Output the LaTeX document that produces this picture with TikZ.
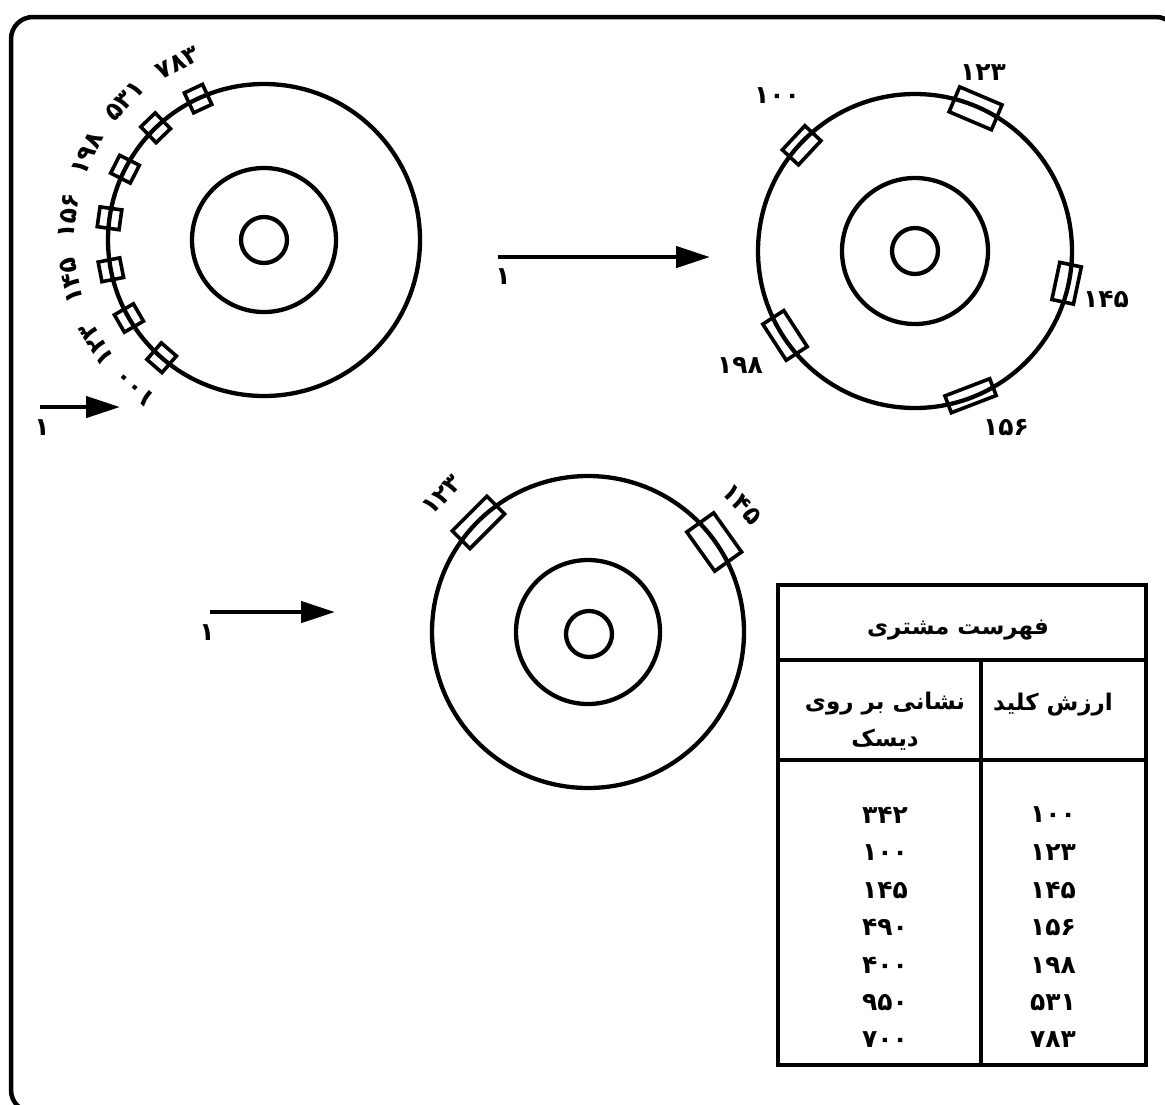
\documentclass[tikz,border=0pt]{standalone}
\usepackage{fontspec}
\newfontfamily\fa[Script=Arabic]{DejaVu Sans Bold}
\TeXXeTstate=1
\usetikzlibrary{arrows.meta,calc}
\begin{document}
\begin{tikzpicture}[x=1pt,y=1pt,line width=4.3pt,
  disk/.style={circle,draw,inner sep=0pt,minimum size=#1},
  rec/.style={rectangle,draw,inner sep=0pt,line width=3.6pt},
  num/.style={font=\fa\fontsize{25}{25}\selectfont,inner sep=0pt},
  txt/.style={font=\fa\fontsize{23}{37}\selectfont,inner sep=0pt,align=center},
  arr/.style={-{Triangle[length=34pt,width=21pt]},line width=4.5pt},
  tline/.style={line width=4.5pt}]
\useasboundingbox (0,0) rectangle (1165,-1104);
\clip (0,0) rectangle (1165,-1104);
\draw[line width=4.5pt,rounded corners=22pt] (11,-17) rectangle (1178,-1112);

% disk 1
\node[disk=312pt] (d1o) at (264,-240) {};
\node[disk=144pt] (d1m) at (264,-240) {};
\node[disk=46pt] (d1i) at (264,-240) {};
\foreach \a/\n in {115/a,134/b,153/c,172/d,191/e,210/f,229/g}
  \node[rec,minimum width=22pt,minimum height=20pt,rotate=\a] (r1\n) at ($(d1o.center)+(\a:156pt)$) {};
\foreach \a/\t/\n in {116/۷۸۳/a,135/۵۳۱/b,154/۱۹۸/c,173/۱۵۶/d,192/۱۴۵/e,212/۱۲۳/f,229/۱۰۰/g}
  \node[num,rotate=\a-90] (l1\n) at ($(d1o.center)+(\a:197pt)$) {\t};

% disk 2
\node[disk=314pt] (d2o) at (915,-251) {};
\node[disk=146pt] (d2m) at (915,-251) {};
\node[disk=46pt] (d2i) at (915,-251) {};
\foreach \a/\w/\h/\n in {137/22/33/a,67/27/46/b,-12/22/38/c,213/25/43/d,-69/18/48/e}
  \node[rec,minimum width=\w pt,minimum height=\h pt,rotate=\a] (r2\n) at ($(d2o.center)+(\a:155pt)$) {};
\node[num] (l2a) at (777,-96) {۱۰۰};
\node[num] (l2b) at (983,-73) {۱۲۳};
\node[num] (l2c) at (1106,-299) {۱۴۵};
\node[num] (l2d) at (740,-365) {۱۹۸};
\node[num] (l2e) at (1006,-428) {۱۵۶};

% disk 3
\node[disk=312pt] (d3o) at (588,-632) {};
\node[disk=144pt] (d3m) at (588,-632) {};
\node[disk=46pt] (d3i) at (589,-634) {};
\node[rec,minimum width=25pt,minimum height=49pt,rotate=135] (r3a) at ($(d3o.center)+(135:155pt)$) {};
\node[rec,minimum width=33pt,minimum height=48pt,rotate=35.5] (r3b) at ($(d3o.center)+(35.5:155pt)$) {};
\node[num,rotate=45] (l3a) at (442,-495) {۱۲۳};
\node[num,rotate=-48] (l3b) at (742,-504) {۱۴۵};

% arrows
\coordinate (a1s) at (40,-407);
\coordinate (a1e) at (120,-407);
\draw[arr] (a1s) -- (a1e);
\node[num] (a1l) at (42,-428) {۱};
\coordinate (a2s) at (498,-257);
\coordinate (a2e) at (710,-257);
\draw[arr] (a2s) -- (a2e);
\node[num] (a2l) at (503,-277) {۱};
\coordinate (a3s) at (210,-612);
\coordinate (a3e) at (335,-612);
\draw[arr] (a3s) -- (a3e);
\node[num] (a3l) at (207,-633) {۱};

% table
\draw[tline] (778,-585) rectangle (1146,-1065);
\draw[tline] (778,-660) -- (1146,-660);
\draw[tline] (778,-760) -- (1146,-760);
\draw[tline] (981,-660) -- (981,-1065);
\node[txt] (tt) at (958,-630) {\beginR فهرست مشتری\endR};
\node[txt] (th1) at (1053,-705) {\beginR ارزش کلید\endR};
\node[txt] (th2) at (885,-721) {\beginR نشانی بر روی\endR\\\beginR دیسک\endR};
\foreach \k/\v [count=\i from 0] in {۱۰۰/۳۴۲,۱۲۳/۱۰۰,۱۴۵/۱۴۵,۱۵۶/۴۹۰,۱۹۸/۴۰۰,۵۳۱/۹۵۰,۷۸۳/۷۰۰}{
  \node[num] (k\i) at (1053,-815-37.5*\i) {\k};
  \node[num] (v\i) at (885,-815-37.5*\i) {\v};
}
\end{tikzpicture}
\end{document}
